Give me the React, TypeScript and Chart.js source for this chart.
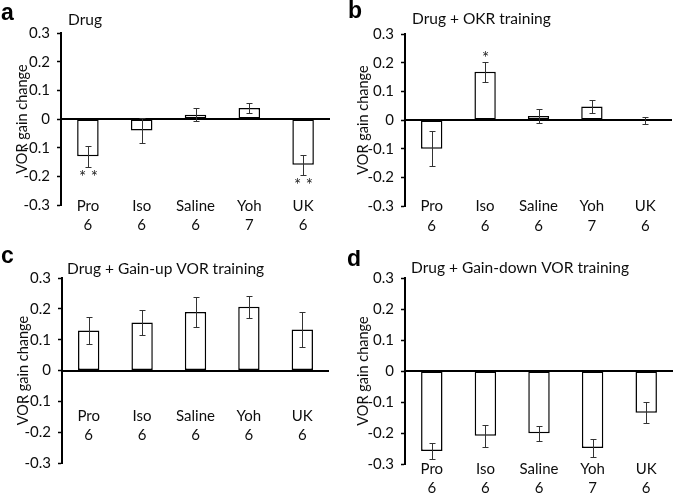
import React, { useEffect, useRef } from "react";
import { Chart, registerables } from "chart.js";

Chart.register(...registerables);

// ---------- data ----------
const drugs = ["Pro", "Iso", "Saline", "Yoh", "UK"];

const nA = [6, 6, 6, 7, 6];
const meanA = [-0.13, -0.04, 0.015, 0.038, -0.16];
const semA = [0.037, 0.044, 0.023, 0.017, 0.034];
const sigA = ["**", "", "", "", "**"];

const nB = [6, 6, 6, 7, 6];
const meanB = [-0.1, 0.168, 0.014, 0.047, -0.001];
const semB = [0.061, 0.034, 0.026, 0.023, 0.012];
const sigB = ["", "*", "", "", ""];

const nC = [6, 6, 6, 6, 6];
const meanC = [0.13, 0.156, 0.19, 0.207, 0.133];
const semC = [0.044, 0.041, 0.049, 0.036, 0.056];
const sigC = ["", "", "", "", ""];

const nD = [6, 6, 6, 7, 6];
const meanD = [-0.258, -0.209, -0.201, -0.248, -0.135];
const semD = [0.026, 0.035, 0.025, 0.028, 0.034];
const sigD = ["", "", "", "", ""];

const yMin = -0.3;
const yMax = 0.3;
const yStep = 0.1;
const yTitle = "VOR gain change";

const FONT = "Lato, 'Open Sans', sans-serif";
const INK = "#0d0d0d";

type Cfg = {
  letter: string;
  title: string;
  means: number[];
  sems: number[];
  ns: number[];
  sig: string[];
  left: number;
  top: number;
  width: number;
  height: number;
  padTop: number;
  padRight: number;
  padBottom: number;
  axisW: number;
  yTitlePad: number;
  labelAt: number;
  letterX: number;
  letterY: number;
  titleX: number;
  titleY: number;
};

const panels: Cfg[] = [
  {
    letter: "a", title: "Drug", means: meanA, sems: semA, ns: nA, sig: sigA,
    left: 0, top: 0, width: 337, height: 249,
    padTop: 33, padRight: 7, padBottom: 44, axisW: 61, yTitlePad: 14,
    labelAt: -0.27, letterX: 1, letterY: 14, titleX: 68, titleY: 20,
  },
  {
    letter: "b", title: "Drug + OKR training", means: meanB, sems: semB, ns: nB, sig: sigB,
    left: 337, top: 0, width: 338, height: 249,
    padTop: 34, padRight: 3, padBottom: 43, axisW: 68, yTitlePad: 18,
    labelAt: -0.269, letterX: 11, letterY: 12, titleX: 75, titleY: 19,
  },
  {
    letter: "c", title: "Drug + Gain-up VOR training", means: meanC, sems: semC, ns: nC, sig: sigC,
    left: 0, top: 250, width: 337, height: 248,
    padTop: 28, padRight: 8, padBottom: 35, axisW: 62, yTitlePad: 15,
    labelAt: -0.116, letterX: 1, letterY: 7, titleX: 67, titleY: 19,
  },
  {
    letter: "d", title: "Drug + Gain-down VOR training", means: meanD, sems: semD, ns: nD, sig: sigD,
    left: 337, top: 250, width: 338, height: 248,
    padTop: 28, padRight: 2, padBottom: 34, axisW: 68, yTitlePad: 18,
    labelAt: -0.287, letterX: 10, letterY: 10, titleX: 74, titleY: 18,
  },
];

function Panel({ cfg }: { cfg: Cfg }) {
  const ref = useRef<HTMLCanvasElement | null>(null);

  useEffect(() => {
    if (!ref.current) return;

    const overlay = {
      id: "overlay" + cfg.letter,
      afterDatasetsDraw(chart: any) {
        const { ctx, chartArea } = chart;
        const x = chart.scales.x;
        const y = chart.scales.y;
        ctx.save();
        // zero axis line
        const y0 = Math.round(y.getPixelForValue(0));
        ctx.strokeStyle = "#000";
        ctx.lineWidth = 2;
        ctx.beginPath();
        ctx.moveTo(chartArea.left, y0);
        ctx.lineTo(chartArea.right, y0);
        ctx.stroke();
        // error bars
        ctx.strokeStyle = "#333333";
        ctx.lineWidth = 1;
        cfg.means.forEach((m, i) => {
          const px = Math.round(x.getPixelForValue(i)) + 0.5;
          const hi = Math.round(y.getPixelForValue(m + cfg.sems[i])) + 0.5;
          const lo = Math.round(y.getPixelForValue(m - cfg.sems[i])) + 0.5;
          ctx.beginPath();
          ctx.moveTo(px, hi);
          ctx.lineTo(px, lo);
          ctx.moveTo(px - 3, hi);
          ctx.lineTo(px + 3, hi);
          ctx.moveTo(px - 3, lo);
          ctx.lineTo(px + 3, lo);
          ctx.stroke();
          const s = cfg.sig[i];
          if (s) {
            ctx.fillStyle = "#222";
            ctx.font = `17px ${FONT}`;
            ctx.textAlign = "center";
            const txt = s.split("").join(" ");
            if (m < 0) {
              ctx.textBaseline = "top";
              ctx.fillText(txt, px, lo + 2);
            } else {
              ctx.textBaseline = "bottom";
              ctx.fillText(txt, px, hi + 5);
            }
          }
        });
        ctx.restore();
      },
      afterDraw(chart: any) {
        const { ctx } = chart;
        ctx.save();
        ctx.fillStyle = "#000";
        ctx.textBaseline = "middle";
        ctx.textAlign = "left";
        ctx.font = `bold 23px 'Liberation Sans', Arial, sans-serif`;
        ctx.fillText(cfg.letter, cfg.letterX, cfg.letterY);
        ctx.fillStyle = INK;
        ctx.font = `15.5px ${FONT}`;
        ctx.fillText(cfg.title, cfg.titleX, cfg.titleY);
        ctx.restore();
      },
    };

    const chart = new Chart(ref.current, {
      type: "bar",
      data: {
        labels: drugs.map((d, i) => [d, String(cfg.ns[i])]),
        datasets: [
          {
            data: cfg.means,
            backgroundColor: "#ffffff",
            borderColor: "#000000",
            borderWidth: 1.5,
            borderSkipped: false,
            barPercentage: 0.4,
            categoryPercentage: 1,
          },
        ],
      },
      options: {
        responsive: false,
        animation: false,
        devicePixelRatio: 1,
        layout: {
          padding: { top: cfg.padTop, right: cfg.padRight, bottom: cfg.padBottom, left: 0 },
        },
        plugins: {
          legend: { display: false },
          tooltip: { enabled: false },
          title: { display: false },
        },
        scales: {
          x: {
            position: { y: cfg.labelAt } as any,
            grid: { display: false, drawTicks: false },
            border: { display: false },
            ticks: {
              padding: 0,
              color: INK,
              font: { family: FONT, size: 15, lineHeight: 1.27 },
              maxRotation: 0,
              autoSkip: false,
            },
          },
          y: {
            min: yMin,
            max: yMax,
            afterFit: (s: any) => {
              s.width = cfg.axisW;
            },
            ticks: {
              stepSize: yStep,
              padding: 7,
              color: INK,
              font: { family: FONT, size: 15 },
              callback: (v: any) => (Math.abs(Number(v)) < 1e-9 ? "0" : Number(v).toFixed(1)),
            },
            grid: {
              drawOnChartArea: false,
              drawTicks: true,
              tickLength: 4,
              tickColor: "#000",
              tickWidth: 1.5,
            },
            border: { display: true, color: "#000", width: 2 },
            title: {
              display: true,
              text: yTitle,
              color: INK,
              font: { family: FONT, size: 14.5 },
              padding: { top: cfg.yTitlePad - 0.5, bottom: 0 },
            },
          },
        },
      },
      plugins: [overlay],
    } as any);

    return () => chart.destroy();
  }, [cfg]);

  return (
    <canvas
      ref={ref}
      width={cfg.width}
      height={cfg.height}
      style={{
        position: "absolute",
        left: cfg.left,
        top: cfg.top,
        width: cfg.width,
        height: cfg.height,
      }}
    />
  );
}

export default function App() {
  return (
    <div
      style={{
        position: "fixed",
        left: 0,
        top: 0,
        width: 675,
        height: 498,
        background: "#ffffff",
        overflow: "hidden",
      }}
    >
      {panels.map((p) => (
        <Panel key={p.letter} cfg={p} />
      ))}
    </div>
  );
}
